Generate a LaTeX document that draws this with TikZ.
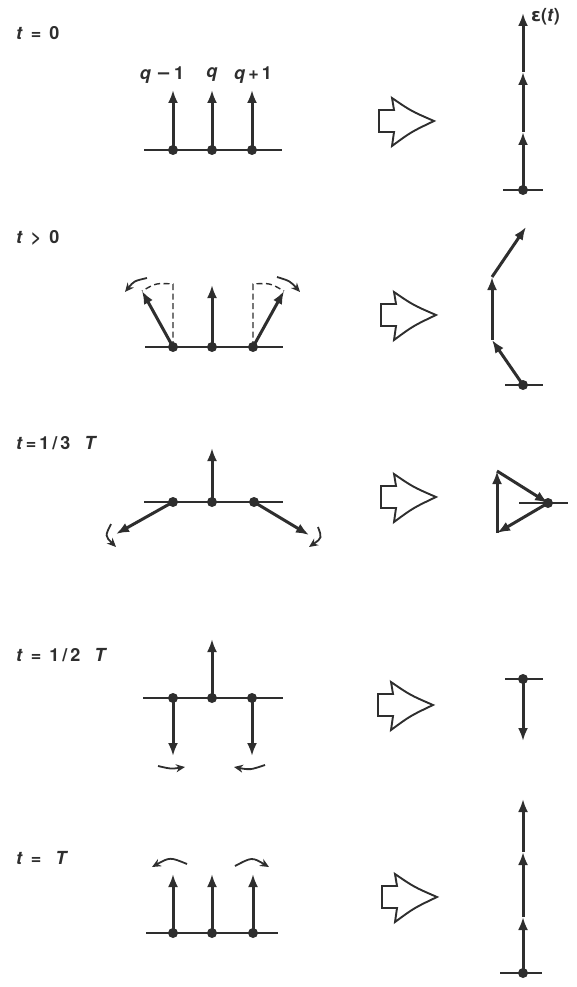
\documentclass[tikz,border=0pt]{standalone}
\usepackage{fontspec}
\setmainfont{TeX Gyre Heros}
\newfontfamily\symfont{DejaVu Sans}
\usetikzlibrary{arrows.meta}
\definecolor{ink}{rgb}{0.18,0.18,0.18}
\tikzset{
  vec/.style={draw=ink, line width=3pt, -{Latex[length=13pt,width=10pt]}},
  base/.style={draw=ink, line width=1.9pt},
  thin/.style={draw=ink, line width=1.8pt, -{Stealth[length=9pt,width=8pt]}},
  guide/.style={draw=ink, line width=1.4pt, dash pattern=on 6pt off 3.5pt},
  dot/.style={circle, fill=ink, inner sep=0pt, minimum size=10pt},
  lab/.style={text=ink, font=\fontsize{18}{20}\selectfont\bfseries, inner sep=0pt},
  hollow/.pic={
    \draw[draw=ink, line width=1.9pt, fill=white, line join=miter]
      (0,-11) -- (15,-11) -- (13,-23) .. controls (32,-10) .. (55,0)
      .. controls (32,11) .. (13,25) -- (15,11) -- (0,11) -- cycle;
  }
}
\begin{document}
\begin{tikzpicture}[x=1pt,y=-1pt]
\useasboundingbox (0,0) rectangle (576,987);

% ---------- Row 1: t = 0 ----------
\node[lab, anchor=west] (lab1) at (16,33) {\textit{t} \,=\, 0};
\coordinate (r1L) at (144,150); \coordinate (r1R) at (282,150);
\draw[base] (r1L) -- (r1R);
\node[dot] (r1a) at (173,150) {}; \node[dot] (r1b) at (212,150) {}; \node[dot] (r1c) at (252,150) {};
\coordinate (r1at) at (173,90); \coordinate (r1bt) at (212,90); \coordinate (r1ct) at (252,90);
\draw[vec] (r1a.center) -- (r1at);
\draw[vec] (r1b.center) -- (r1bt);
\draw[vec] (r1c.center) -- (r1ct);
\node[lab] (q1) at (162,75) {\textit{q} \symfont\bfseries−\,\normalfont\bfseries 1};
\node[lab] (q2) at (212,75) {\textit{q}};
\node[lab] (q3) at (253,75) {\textit{q}\,+\,1};
\pic at (379,121) {hollow};
\coordinate (s1L) at (503,190); \coordinate (s1R) at (543,190);
\draw[base] (s1L) -- (s1R);
\node[dot] (s1o) at (523,190) {};
\coordinate (s1a) at (523,132); \coordinate (s1b) at (523,72); \coordinate (s1c) at (523,13);
\draw[vec] (s1o.center) -- (s1a);
\draw[vec] (s1a) -- (s1b);
\draw[vec] (s1b) -- (s1c);
\node[lab, anchor=west] (eps) at (531,17) {{\symfont ε}(\textit{t})};

% ---------- Row 2: t > 0 ----------
\node[lab, anchor=west] (lab2) at (16,238) {\textit{t} \,>\, 0};
\coordinate (r2L) at (145,347); \coordinate (r2R) at (283,347);
\draw[base] (r2L) -- (r2R);
\node[dot] (r2a) at (173,347) {}; \node[dot] (r2b) at (212,347) {}; \node[dot] (r2c) at (253,347) {};
\coordinate (r2at) at (142,291); \coordinate (r2bt) at (212,285); \coordinate (r2ct) at (284,291);
\coordinate (r2av) at (173,284); \coordinate (r2cv) at (253,284);
\draw[guide] (r2a.center) -- (r2av) .. controls (156,283) .. (r2at);
\draw[guide] (r2c.center) -- (r2cv) .. controls (270,283) .. (r2ct);
\draw[vec] (r2a.center) -- (r2at);
\draw[vec] (r2b.center) -- (r2bt);
\draw[vec] (r2c.center) -- (r2ct);
\coordinate (r2m1) at (147,278); \coordinate (r2m2) at (125,292);
\coordinate (r2n1) at (277,277); \coordinate (r2n2) at (300,292);
\draw[thin] (r2m1) .. controls (134,281) .. (r2m2);
\draw[thin] (r2n1) .. controls (290,281) .. (r2n2);
\pic at (381,315) {hollow};
\coordinate (s2L) at (505,385); \coordinate (s2R) at (543,385);
\draw[base] (s2L) -- (s2R);
\node[dot] (s2o) at (523,385) {};
\coordinate (s2a) at (492,340); \coordinate (s2b) at (492,277); \coordinate (s2c) at (526,227);
\draw[vec] (s2o.center) -- (s2a);
\draw[vec] (s2a) -- (s2b);
\draw[vec] (s2b) -- (s2c);

% ---------- Row 3: t = 1/3 T ----------
\node[lab, anchor=west] (lab3) at (16,443) {\textit{t}\,=\,1\,/\,3\,\,\, \textit{T}};
\coordinate (r3L) at (144,502); \coordinate (r3R) at (283,502);
\draw[base] (r3L) -- (r3R);
\node[dot] (r3a) at (173,502) {}; \node[dot] (r3b) at (212,502) {}; \node[dot] (r3c) at (254,502) {};
\coordinate (r3at) at (116,534); \coordinate (r3bt) at (212,448); \coordinate (r3ct) at (309,535);
\draw[vec] (r3a.center) -- (r3at);
\draw[vec] (r3b.center) -- (r3bt);
\draw[vec] (r3c.center) -- (r3ct);
\coordinate (r3m1) at (111,524); \coordinate (r3m2) at (116,547);
\coordinate (r3n1) at (318,527); \coordinate (r3n2) at (309,547);
\draw[thin] (r3m1) .. controls (105,536) .. (r3m2);
\draw[thin] (r3n1) .. controls (322,538) .. (r3n2);
\pic at (381,497) {hollow};
\coordinate (s3L) at (519,503); \coordinate (s3R) at (568,503);
\draw[base] (s3L) -- (s3R);
\node[dot] (s3o) at (548,503) {};
\coordinate (s3a) at (497,533); \coordinate (s3b) at (497,471);
\draw[vec] (s3o.center) -- (s3a);
\draw[vec] (s3a) -- (s3b);
\draw[vec] (s3b) -- (s3o.center);

% ---------- Row 4: t = 1/2 T ----------
\node[lab, anchor=west] (lab4) at (16,655) {\textit{t} \,=\, 1\,/\,2\,\,\, \textit{T}};
\coordinate (r4L) at (143,698); \coordinate (r4R) at (283,698);
\draw[base] (r4L) -- (r4R);
\node[dot] (r4a) at (173,698) {}; \node[dot] (r4b) at (212,698) {}; \node[dot] (r4c) at (252,698) {};
\coordinate (r4at) at (173,756); \coordinate (r4bt) at (212,639); \coordinate (r4ct) at (252,756);
\draw[vec] (r4a.center) -- (r4at);
\draw[vec] (r4b.center) -- (r4bt);
\draw[vec] (r4c.center) -- (r4ct);
\coordinate (r4m1) at (158,766); \coordinate (r4m2) at (185,767);
\coordinate (r4n1) at (265,765); \coordinate (r4n2) at (234,767);
\draw[thin] (r4m1) .. controls (171,769) .. (r4m2);
\draw[thin] (r4n1) .. controls (250,770) .. (r4n2);
\pic at (378,705) {hollow};
\coordinate (s4L) at (505,679); \coordinate (s4R) at (543,679);
\draw[base] (s4L) -- (s4R);
\node[dot] (s4o) at (523,679) {};
\coordinate (s4a) at (523,741);
\draw[vec] (s4o.center) -- (s4a);

% ---------- Row 5: t = T ----------
\node[lab, anchor=west] (lab5) at (16,858) {\textit{t} \,=\,\,\, \textit{T}};
\coordinate (r5L) at (146,933); \coordinate (r5R) at (278,933);
\draw[base] (r5L) -- (r5R);
\node[dot] (r5a) at (173,933) {}; \node[dot] (r5b) at (212,933) {}; \node[dot] (r5c) at (253,933) {};
\coordinate (r5at) at (173,874); \coordinate (r5bt) at (212,874); \coordinate (r5ct) at (253,874);
\draw[vec] (r5a.center) -- (r5at);
\draw[vec] (r5b.center) -- (r5bt);
\draw[vec] (r5c.center) -- (r5ct);
\coordinate (r5m1) at (187,864); \coordinate (r5m2) at (152,867);
\coordinate (r5n1) at (235,866); \coordinate (r5n2) at (269,867);
\draw[thin] (r5m1) .. controls (170,857) .. (r5m2);
\draw[thin] (r5n1) .. controls (252,857) .. (r5n2);
\pic at (382,897) {hollow};
\coordinate (s5L) at (500,973); \coordinate (s5R) at (542,973);
\draw[base] (s5L) -- (s5R);
\node[dot] (s5o) at (523,973) {};
\coordinate (s5a) at (523,917); \coordinate (s5b) at (523,852); \coordinate (s5c) at (523,799);
\draw[vec] (s5o.center) -- (s5a);
\draw[vec] (s5a) -- (s5b);
\draw[vec] (s5b) -- (s5c);
\end{tikzpicture}
\end{document}
